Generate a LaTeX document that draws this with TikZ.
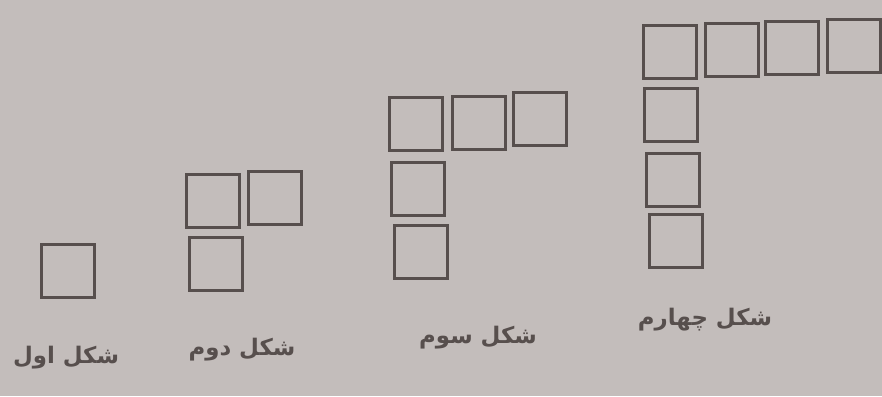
\documentclass[tikz,border=0pt]{standalone}
\usepackage{fontspec}
\newfontfamily\persianfont[Script=Arabic]{DejaVu Sans}
\TeXXeTstate=1
\usetikzlibrary{positioning}
\definecolor{Paper}{HTML}{C3BDBB}
\definecolor{Ink}{HTML}{574F4D}

\tikzset{
  tile/.style={draw=Ink,line width=1.7pt,minimum size=1.06cm,inner sep=0pt},
  caption/.style={text=Ink,font=\persianfont\bfseries\fontsize{13}{16}\selectfont}
}

\begin{document}
\begin{tikzpicture}[x=0.02cm,y=-0.02cm]
    \fill[Paper] (0,0) rectangle (882,396);
    % shape 1
    \node[tile] (s1a) at (68,271) {};
    % shape 2
    \node[tile] (s2a) at (213,201) {};
    \node[tile] (s2b) at (275,198) {};
    \node[tile] (s2c) at (216,264) {};
    % shape 3
    \node[tile] (s3a) at (416,124) {};
    \node[tile] (s3b) at (479,123) {};
    \node[tile] (s3c) at (540,119) {};
    \node[tile] (s3d) at (418,189) {};
    \node[tile] (s3e) at (421,252) {};
    % shape 4
    \node[tile] (s4a) at (670,52) {};
    \node[tile] (s4b) at (732,50) {};
    \node[tile] (s4c) at (792,48) {};
    \node[tile] (s4d) at (854,46) {};
    \node[tile] (s4e) at (671,115) {};
    \node[tile] (s4f) at (673,180) {};
    \node[tile] (s4g) at (676,241) {};
    % captions
    \node[caption] (c1) at (66,358) {\beginR شکل اول\endR};
    \node[caption] (c2) at (242,350) {\beginR شکل دوم\endR};
    \node[caption] (c3) at (478,338) {\beginR شکل سوم\endR};
    \node[caption] (c4) at (705,320) {\beginR شکل چهارم\endR};
\end{tikzpicture}
\end{document}
